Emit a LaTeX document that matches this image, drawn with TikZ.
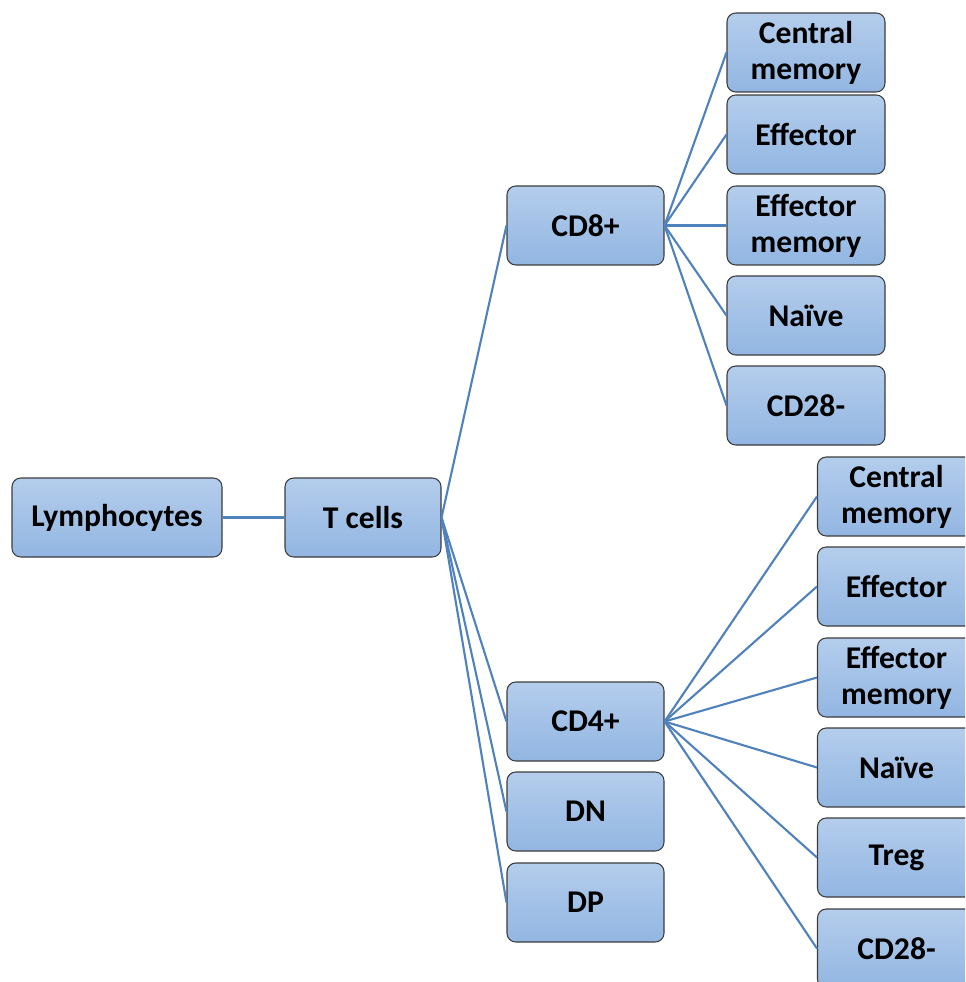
\documentclass[tikz,border=0pt]{standalone}
\usepackage{fontspec}
\setmainfont{Carlito}
\usepackage{tikz}
\usepackage{xcolor}
\definecolor{linkblue}{RGB}{79,129,189}
\definecolor{boxtop}{RGB}{180,205,236}
\definecolor{boxbot}{RGB}{146,182,226}
\definecolor{boxedge}{RGB}{60,60,60}

\begin{document}
\begin{tikzpicture}[
  cellbox/.style={draw=boxedge, line width=0.6pt, rounded corners=5pt,
    top color=boxtop, bottom color=boxbot, minimum height=1.58cm,
    align=center, font=\fontsize{18}{20.5}\selectfont\bfseries, inner sep=0pt},
  link/.style={draw=linkblue, line width=1.2pt}]
\clip (0,0) rectangle (19.3,-19.64);
\useasboundingbox (0,0) rectangle (19.3,-19.64);
% root and T cells
\node[cellbox, minimum width=4.2cm] (lymph) at (2.34,-10.35) {Lymphocytes};
\node[cellbox, minimum width=3.12cm] (tcells) at (7.26,-10.35) {T cells};
% subsets
\node[cellbox, minimum width=3.14cm] (cdeight) at (11.71,-4.51) {CD8+};
\node[cellbox, minimum width=3.14cm] (cdfour) at (11.71,-14.43) {CD4+};
\node[cellbox, minimum width=3.14cm] (dn) at (11.71,-16.23) {DN};
\node[cellbox, minimum width=3.14cm] (dp) at (11.71,-18.05) {DP};
% CD8+ children
\node[cellbox, minimum width=3.16cm] (ecm) at (16.12,-1.05) {Central\\memory};
\node[cellbox, minimum width=3.16cm] (eeff) at (16.12,-2.69) {Effector};
\node[cellbox, minimum width=3.16cm] (eem) at (16.12,-4.51) {Effector\\memory};
\node[cellbox, minimum width=3.16cm] (enaive) at (16.12,-6.31) {Na\"ive};
\node[cellbox, minimum width=3.16cm] (ecd) at (16.12,-8.11) {CD28-};
% CD4+ children
\node[cellbox, minimum width=3.16cm] (fcm) at (17.93,-9.93) {Central\\memory};
\node[cellbox, minimum width=3.16cm] (feff) at (17.93,-11.73) {Effector};
\node[cellbox, minimum width=3.16cm] (fem) at (17.93,-13.55) {Effector\\memory};
\node[cellbox, minimum width=3.16cm] (fnaive) at (17.93,-15.35) {Na\"ive};
\node[cellbox, minimum width=3.16cm] (ftreg) at (17.93,-17.15) {Treg};
\node[cellbox, minimum width=3.16cm] (fcd) at (17.93,-18.97) {CD28-};
% links
\draw[link] (lymph.east) -- (tcells.west);
\draw[link] (tcells.east) -- (cdeight.west);
\draw[link] (tcells.east) -- (cdfour.west);
\draw[link] (tcells.east) -- (dn.west);
\draw[link] (tcells.east) -- (dp.west);
\draw[link] (cdeight.east) -- (ecm.west);
\draw[link] (cdeight.east) -- (eeff.west);
\draw[link] (cdeight.east) -- (eem.west);
\draw[link] (cdeight.east) -- (enaive.west);
\draw[link] (cdeight.east) -- (ecd.west);
\draw[link] (cdfour.east) -- (fcm.west);
\draw[link] (cdfour.east) -- (feff.west);
\draw[link] (cdfour.east) -- (fem.west);
\draw[link] (cdfour.east) -- (fnaive.west);
\draw[link] (cdfour.east) -- (ftreg.west);
\draw[link] (cdfour.east) -- (fcd.west);
\end{tikzpicture}
\end{document}
